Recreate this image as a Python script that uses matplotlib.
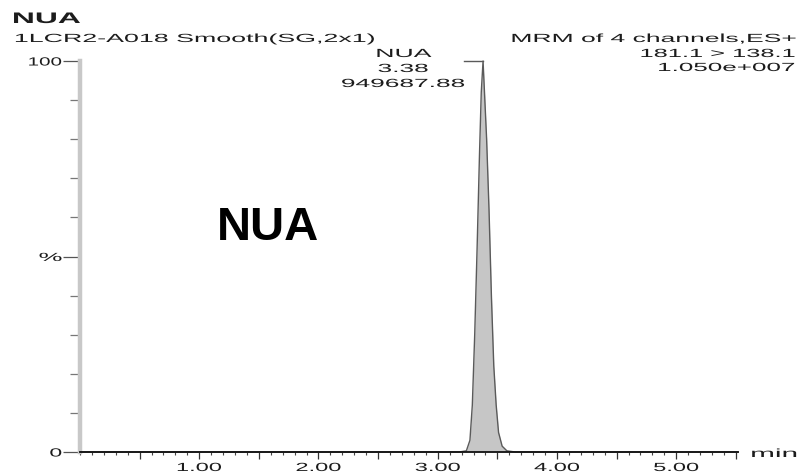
import numpy as np
import matplotlib
matplotlib.use("Agg")
import matplotlib.pyplot as plt
from matplotlib.patheffects import AbstractPathEffect
from matplotlib.transforms import Affine2D
from matplotlib.ticker import FixedLocator, MultipleLocator

plt.rcParams['font.family'] = ['Liberation Sans', 'DejaVu Sans']

# ---- chromatogram data (time in min, relative intensity in %) ----
time_min = [0.00, 3.18, 3.24, 3.27, 3.29, 3.31, 3.33, 3.35, 3.365, 3.38,
            3.395, 3.41, 3.43, 3.45, 3.47, 3.49, 3.51, 3.54, 3.58, 3.65, 5.52]
intensity_pct = [0, 0, 0.3, 3, 12, 30, 52, 76, 92, 100,
                 90, 80, 62, 40, 22, 12, 5, 1.5, 0.3, 0, 0]

peak_name = "NUA"
peak_rt = 3.38
peak_area = "949687.88"

trace_name = "NUA"
sample_line = "1LCR2-A018 Smooth(SG,2x1)"
scan_info = ["MRM of 4 channels,ES+", "181.1 > 138.1", "1.050e+007"]

x_tick_vals = [1, 2, 3, 4, 5]
x_tick_text = ["1.00", "2.00", "3.00", "4.00", "5.00"]
y_tick_vals = [0, 50, 100]
y_tick_text = ["0", "%", "100"]

TXT = "#1c1c1c"


class Stretch(AbstractPathEffect):
    """Draw text glyphs widened horizontally about a chosen anchor."""

    def __init__(self, sx=None, width=None, anchor="left"):
        super().__init__()
        self.sx = sx
        self.width = width
        self.anchor = anchor

    def draw_path(self, renderer, gc, tpath, affine, rgbFace=None):
        bb = tpath.get_extents(affine)
        if bb.width <= 0:
            renderer.draw_path(gc, tpath, affine, rgbFace)
            return
        if self.width is not None:
            dpi = getattr(renderer, "dpi", 100)
            sx = self.width * dpi / 100.0 / bb.width
        else:
            sx = self.sx
        cx = {"left": bb.x0, "center": 0.5 * (bb.x0 + bb.x1), "right": bb.x1}[self.anchor]
        aff = affine + Affine2D().translate(-cx, 0).scale(sx, 1).translate(cx, 0)
        renderer.draw_path(gc, tpath, aff, rgbFace)


W, H = 802, 477
fig = plt.figure(figsize=(W / 100, H / 100), dpi=100)
ax = fig.add_axes([80 / W, 1 - 453 / H, (738 - 80) / W, (453 - 62) / H])

# trace
ax.fill_between(time_min, 0, intensity_pct, color="#c6c6c6", lw=0, zorder=2)
ax.plot(time_min, intensity_pct, color="#5a5a5a", lw=1.0, zorder=3, clip_on=False)
# peak label leader
ax.plot([3.22, peak_rt], [100, 100], color="#5a5a5a", lw=1.0, clip_on=False, zorder=3)

ax.set_xlim(0, 5.518)
ax.set_ylim(0, 100)

for s in ("top", "right"):
    ax.spines[s].set_visible(False)
ax.spines["bottom"].set_color("#111111")
ax.spines["bottom"].set_linewidth(1.3)
ax.spines["bottom"].set_zorder(4)
ax.spines["left"].set_color("#c8c8c8")
ax.spines["left"].set_linewidth(3.2)

# x ticks: major every 0.5 min (labels on whole minutes), minor every 0.1 min
major_x = [0.5 * k for k in range(1, 12)]
ax.xaxis.set_major_locator(FixedLocator(major_x))
ax.set_xticklabels([x_tick_text[x_tick_vals.index(int(v))] if float(v).is_integer() else ""
                    for v in major_x])
ax.xaxis.set_minor_locator(MultipleLocator(0.1))
ax.tick_params(axis="x", which="major", direction="out", length=5, width=0.9,
               color="#333333", pad=2.2, labelsize=8.5, labelcolor=TXT)
ax.tick_params(axis="x", which="minor", direction="out", length=2.2, width=0.8,
               color="#444444")

# y ticks: labelled at 0/50/100, minor every 10 %
ax.yaxis.set_major_locator(FixedLocator(y_tick_vals))
ax.set_yticklabels(y_tick_text)
ax.yaxis.set_minor_locator(MultipleLocator(10))
ax.tick_params(axis="y", which="major", direction="out", length=12.5, width=0.9,
               color="#555555", pad=0.6, labelsize=8.5, labelcolor=TXT)
ax.tick_params(axis="y", which="minor", direction="out", length=7.5, width=0.9,
               color="#777777")

for lbl in ax.get_xticklabels():
    lbl.set_path_effects([Stretch(sx=2.0, anchor="center")])
y_widths = {"0": 11, "%": 22, "100": 32}
for lbl in ax.get_yticklabels():
    lbl.set_path_effects([Stretch(width=y_widths[lbl.get_text()], anchor="right")])


def ftext(x, y, s, width, ha="left", va="baseline", **kw):
    fig.text(x / W, 1 - y / H, s, ha=ha, va=va, color=kw.pop("color", TXT),
             fontsize=kw.pop("fontsize", 8.5),
             path_effects=[Stretch(width=width, anchor=ha)], **kw)


# header
ftext(13, 24, trace_name, 66, fontsize=11, weight="bold")
ftext(15, 43, sample_line, 358)
ftext(796, 43, scan_info[0], 283, ha="right")
ftext(795, 58, scan_info[1], 153, ha="right")
ftext(795, 72, scan_info[2], 135, ha="right")

# peak annotation
ftext(404, 58, peak_name, 54, ha="center")
ftext(403, 73, f"{peak_rt:.2f}", 49, ha="center")
ftext(403, 88, peak_area, 122, ha="center")

# axis unit
ftext(797, 455, "min", 44, ha="right", va="center")

# compound label
fig.text(268 / W, 1 - 240 / H, "NUA", fontsize=34, weight="bold", color="black",
         ha="center", va="baseline")

fig.savefig("out.png", dpi=100)
